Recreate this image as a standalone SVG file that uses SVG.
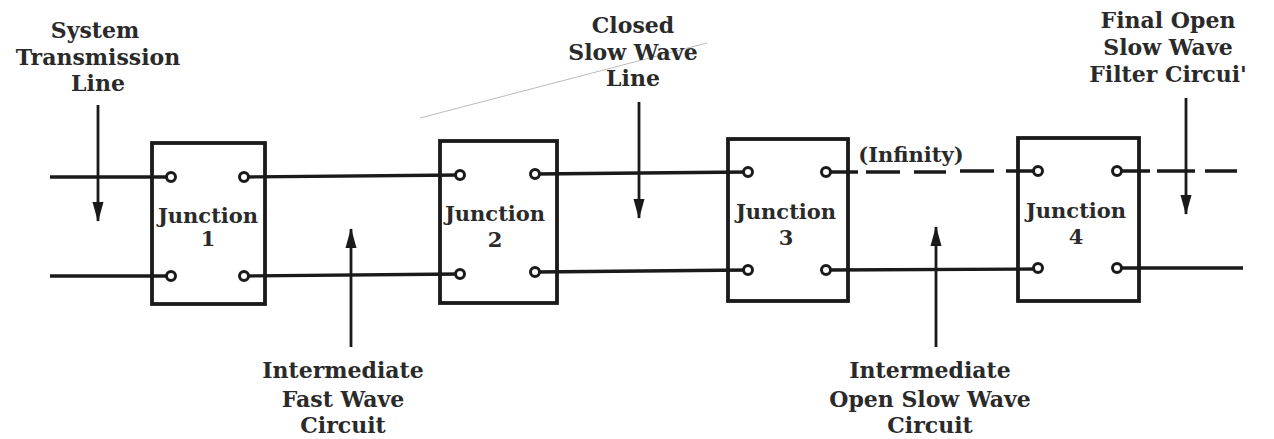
<svg xmlns="http://www.w3.org/2000/svg" width="1274" height="439" viewBox="0 0 1274 439">
<style>
.t{font-family:"DejaVu Serif","Liberation Serif",serif;font-weight:bold;font-size:22px;fill:#2a2a2a;text-anchor:middle}
.j{font-size:21px}
.box{fill:none;stroke:#1a1a1a;stroke-width:3.8}
.ln{fill:none;stroke:#1a1a1a;stroke-width:3.4}
.term{fill:#fff;stroke:#1a1a1a;stroke-width:3}
.arr{fill:none;stroke:#1a1a1a;stroke-width:2.8;marker-end:url(#ah)}
</style>
<defs>
<marker id="ah" viewBox="0 0 20 12" refX="19" refY="6" markerWidth="20" markerHeight="12" markerUnits="userSpaceOnUse" orient="auto">
<path d="M0,0.5 L20,6 L0,11.5 Z" fill="#1a1a1a"/>
</marker>
</defs>
<rect width="1274" height="439" fill="#fff"/>
<g id="connectors">
<path class="ln" d="M50,177 L171,177 M50,276 L171,276"/>
<path class="ln" d="M244,177 L460,175 M244,276 L460,274"/>
<path class="ln" d="M535,174 L748,172 M535,272 L748,270"/>
<path class="ln" d="M826,172 L858,172 M866,172 L900,172 M914,172 L946,172 M960,171 L994,171 M1006,171 L1038,171 M826,270 L1038,269"/>
<path class="ln" d="M1117,171 L1150,171 M1157,171 L1195,171 M1205,171 L1237,171 M1117,268 L1243,268"/>
<line class="arr" x1="98" y1="105" x2="98" y2="221"/>
<line class="arr" x1="639" y1="102" x2="639" y2="218"/>
<line class="arr" x1="1186" y1="98" x2="1186" y2="214"/>
<line class="arr" x1="351" y1="347" x2="351" y2="229"/>
<line class="arr" x1="936" y1="347" x2="936" y2="227"/>
<line x1="707" y1="43" x2="420" y2="118" stroke="#bbb" stroke-width="1"/>
</g>
<g id="junction1">
<rect class="box" x="152" y="143" width="113" height="161"/>
<circle class="term" cx="171" cy="177" r="4.5"/><circle class="term" cx="244" cy="177" r="4.5"/>
<circle class="term" cx="171" cy="276" r="4.5"/><circle class="term" cx="244" cy="276" r="4.5"/>
<text class="t j" x="208" y="223">Junction</text><text class="t j" x="208" y="246">1</text>
</g>
<g id="junction2">
<rect class="box" x="440" y="141" width="117" height="162"/>
<circle class="term" cx="460" cy="175" r="4.5"/><circle class="term" cx="535" cy="174" r="4.5"/>
<circle class="term" cx="460" cy="274" r="4.5"/><circle class="term" cx="535" cy="272" r="4.5"/>
<text class="t j" x="495" y="221">Junction</text><text class="t j" x="495" y="247">2</text>
</g>
<g id="junction3">
<rect class="box" x="728" y="139" width="120" height="162"/>
<circle class="term" cx="748" cy="172" r="4.5"/><circle class="term" cx="826" cy="172" r="4.5"/>
<circle class="term" cx="748" cy="270" r="4.5"/><circle class="term" cx="826" cy="270" r="4.5"/>
<text class="t j" x="786" y="219">Junction</text><text class="t j" x="786" y="245">3</text>
</g>
<g id="junction4">
<rect class="box" x="1018" y="138" width="121" height="163"/>
<circle class="term" cx="1038" cy="171" r="4.5"/><circle class="term" cx="1117" cy="171" r="4.5"/>
<circle class="term" cx="1038" cy="268" r="4.5"/><circle class="term" cx="1117" cy="268" r="4.5"/>
<text class="t j" x="1076" y="218">Junction</text><text class="t j" x="1076" y="244">4</text>
</g>
<g id="labels">
<text class="t" x="95" y="38">System</text>
<text class="t" x="98" y="65">Transmission</text>
<text class="t" x="98" y="91">Line</text>
<text class="t" x="633" y="33">Closed</text>
<text class="t" x="633" y="60">Slow Wave</text>
<text class="t" x="633" y="86">Line</text>
<text class="t" x="1168" y="28">Final Open</text>
<text class="t" x="1168" y="55">Slow Wave</text>
<text class="t" x="1168" y="82">Filter Circui'</text>
<text class="t j" x="911" y="162">(Infinity)</text>
<text class="t" x="343" y="378">Intermediate</text>
<text class="t" x="343" y="407">Fast Wave</text>
<text class="t" x="343" y="433">Circuit</text>
<text class="t" x="930" y="378">Intermediate</text>
<text class="t" x="930" y="407">Open Slow Wave</text>
<text class="t" x="930" y="433">Circuit</text>
</g>
</svg>
